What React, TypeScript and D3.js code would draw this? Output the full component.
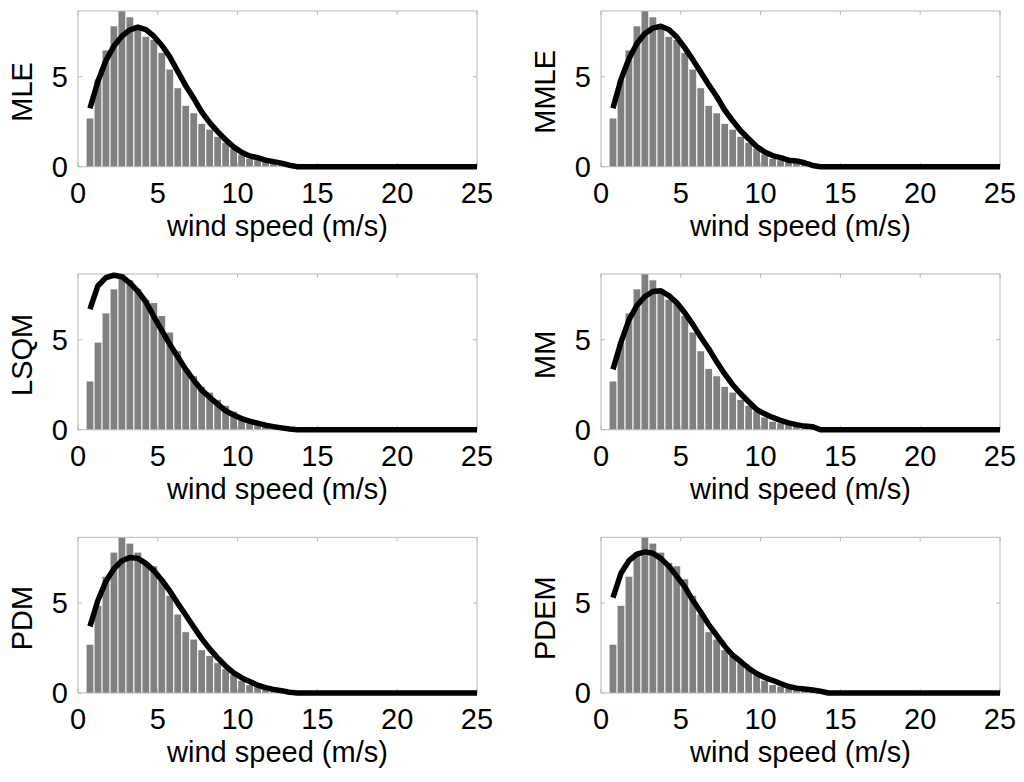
import React from "react";
import * as d3 from "d3";

// Histogram bin centres (m/s) and observed frequency (%)
const binCenters = [0.75, 1.25, 1.75, 2.25, 2.75, 3.25, 3.75, 4.25, 4.75, 5.25, 5.75, 6.25, 6.75, 7.25, 7.75, 8.25, 8.75, 9.25, 9.75, 10.25, 10.75, 11.25, 11.75, 12.25, 12.75, 13.25, 13.75];
const observed = [2.68, 4.84, 6.46, 7.8, 8.65, 8.3, 7.8, 7.22, 7.04, 6.32, 5.4, 4.36, 3.38, 2.97, 2.38, 2.06, 1.66, 1.33, 1.0, 0.68, 0.44, 0.36, 0.26, 0.19, 0.14, 0.08, 0.05];

// Speeds at which the fitted curves are drawn
const curveSpeeds = [0.75, 1.25, 1.75, 2.25, 2.75, 3.25, 3.75, 4.25, 4.75, 5.25, 5.75, 6.25, 6.75, 7.25, 7.75, 8.25, 8.75, 9.25, 9.75, 10.25, 10.75, 11.25, 11.75, 12.25, 12.75, 13.25, 13.75, 14.25, 25];

const fitMLE = [3.25, 4.75, 5.9, 6.7, 7.25, 7.6, 7.75, 7.62, 7.25, 6.75, 6.1, 5.3, 4.5, 3.8, 3.05, 2.45, 1.95, 1.5, 1.1, 0.8, 0.6, 0.5, 0.36, 0.28, 0.2, 0.08, 0, 0, 0];
const fitMMLE = [3.25, 4.85, 6.0, 6.85, 7.4, 7.7, 7.8, 7.62, 7.2, 6.6, 5.95, 5.25, 4.55, 3.9, 3.15, 2.55, 2.0, 1.55, 1.12, 0.82, 0.62, 0.5, 0.36, 0.32, 0.22, 0.07, 0, 0, 0];
const fitLSQM = [6.7, 8.0, 8.45, 8.58, 8.5, 8.15, 7.7, 7.1, 6.3, 5.5, 4.75, 4.05, 3.35, 2.75, 2.2, 1.8, 1.42, 1.05, 0.82, 0.62, 0.48, 0.36, 0.25, 0.17, 0.1, 0.04, 0, 0, 0];
const fitMM = [3.35, 4.85, 6.1, 6.9, 7.4, 7.68, 7.72, 7.45, 7.05, 6.5, 5.85, 5.15, 4.5, 3.77, 3.1, 2.5, 2.0, 1.55, 1.12, 0.88, 0.68, 0.52, 0.38, 0.28, 0.2, 0.17, 0, 0, 0];
const fitPDM = [3.7, 5.15, 6.2, 6.9, 7.35, 7.53, 7.48, 7.2, 6.8, 6.27, 5.67, 4.98, 4.33, 3.67, 3.02, 2.45, 1.95, 1.5, 1.12, 0.85, 0.64, 0.44, 0.3, 0.2, 0.13, 0.04, 0, 0, 0];
const fitPDEM = [5.3, 6.65, 7.35, 7.72, 7.84, 7.76, 7.48, 7.05, 6.48, 5.9, 5.15, 4.5, 3.8, 3.2, 2.6, 2.1, 1.75, 1.38, 1.08, 0.86, 0.7, 0.53, 0.36, 0.27, 0.22, 0.17, 0.1, 0, 0];

const methodNames = ["MLE", "MMLE", "LSQM", "MM", "PDM", "PDEM"];
const methodFits = [fitMLE, fitMMLE, fitLSQM, fitMM, fitPDM, fitPDEM];

const xTicks = [0, 5, 10, 15, 20, 25];
const yTicks = [0, 5];
const xLabel = "wind speed (m/s)";
const binWidth = 0.5;
const xDomain: [number, number] = [0, 25];
const yDomain: [number, number] = [0, 8.65];

const colLefts = [78, 601];
const rowTops = [11, 274, 537.3];
const plotW = 399;
const plotH = 155.7;
const FONT = "'Liberation Sans', Arial, sans-serif";
const FS = 29;

function Panel({ name, fit, left, top }: { name: string; fit: number[]; left: number; top: number }) {
  const x = d3.scaleLinear().domain(xDomain).range([0, plotW]);
  const y = d3.scaleLinear().domain(yDomain).range([plotH, 0]);
  const line = d3
    .line<number>()
    .x((_, i) => x(curveSpeeds[i]))
    .y((d) => y(d));
  const gap = 0.6;
  const tickLen = 4;
  const grey = "#b8b8b8";
  return (
    <g transform={`translate(${left},${top})`}>
      {binCenters.map((c, i) => {
        const x0 = x(c - binWidth / 2) + gap;
        const x1 = x(c + binWidth / 2) - gap;
        return (
          <rect key={i} x={x0} y={y(observed[i])} width={x1 - x0} height={y(0) - y(observed[i])} fill="#808080" />
        );
      })}
      <rect x={0} y={0} width={plotW} height={plotH} fill="none" stroke={grey} strokeWidth={1} />
      {xTicks.map((t) => (
        <g key={"xt" + t}>
          <line x1={x(t)} x2={x(t)} y1={0} y2={tickLen} stroke={grey} />
          <line x1={x(t)} x2={x(t)} y1={plotH} y2={plotH - tickLen} stroke={grey} />
          <text x={x(t)} y={plotH + 36.5} textAnchor="middle" fontFamily={FONT} fontSize={FS} fill="#000">
            {t}
          </text>
        </g>
      ))}
      {yTicks.map((t) => (
        <g key={"yt" + t}>
          <line x1={0} x2={tickLen} y1={y(t)} y2={y(t)} stroke={grey} />
          <line x1={plotW} x2={plotW - tickLen} y1={y(t)} y2={y(t)} stroke={grey} />
          <text x={-10} y={y(t)} dy="0.36em" textAnchor="end" fontFamily={FONT} fontSize={FS} fill="#000">
            {t}
          </text>
        </g>
      ))}
      <path d={line(fit) || ""} fill="none" stroke="#000" strokeWidth={5.5} strokeLinejoin="round" strokeLinecap="butt" />
      <text x={plotW / 2} y={plotH + 69} textAnchor="middle" fontFamily={FONT} fontSize={FS} fill="#000">
        {xLabel}
      </text>
      <text
        transform={`translate(${-46},${plotH / 2 + 3}) rotate(-90)`}
        textAnchor="middle"
        fontFamily={FONT}
        fontSize={FS}
        fill="#000"
      >
        {name}
      </text>
    </g>
  );
}

export default function App() {
  return (
    <svg
      width={1024}
      height={782}
      style={{ position: "absolute", left: 0, top: 0, background: "#fff" }}
      xmlns="http://www.w3.org/2000/svg"
    >
      <rect x={0} y={0} width={1024} height={782} fill="#fff" />
      {methodNames.map((n, i) => (
        <Panel key={n} name={n} fit={methodFits[i]} left={colLefts[i % 2]} top={rowTops[Math.floor(i / 2)]} />
      ))}
    </svg>
  );
}
